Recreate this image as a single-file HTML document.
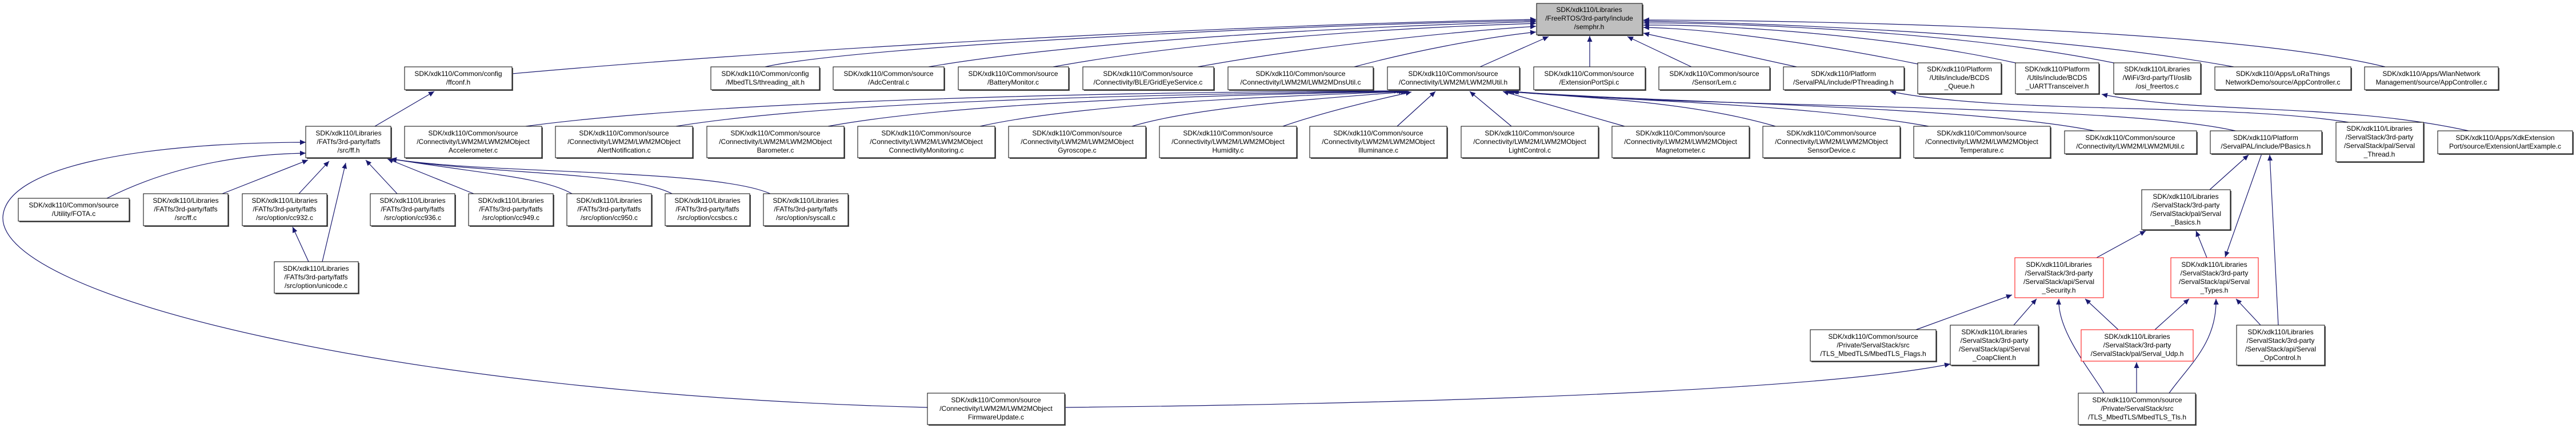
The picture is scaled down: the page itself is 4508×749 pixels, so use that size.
<!DOCTYPE html>
<html><head><meta charset="utf-8"><style>
html,body{margin:0;padding:0;background:#fff;}
svg{display:block;}
text{font-family:"Liberation Sans",Arial,sans-serif;font-size:12px;fill:#000;text-anchor:middle;}
.e{fill:none;stroke:#191970;stroke-width:1.2;}
.b{fill:#fff;stroke:#000;stroke-width:1;}
.r{fill:#fff;stroke:#ff0000;stroke-width:1;}
.s{fill:#555;}
</style></head><body>
<svg width="4508" height="749" viewBox="0 0 4508 749" xmlns="http://www.w3.org/2000/svg">
<defs><marker id="a" markerUnits="userSpaceOnUse" markerWidth="11" markerHeight="9" refX="10" refY="4.5" orient="auto"><path d="M0,0 L10,4.5 L0,9 z" fill="#191970"/></marker></defs>
<g class="e" marker-end="url(#a)">
<!-- to semphr -->
<path d="M896,129 C1500,75 2300,40 2688,34"/>
<path d="M1339,117 C1500,80 2300,42 2688,36"/>
<path d="M1625,117 C1900,70 2400,45 2688,38"/>
<path d="M1843,117 C2100,70 2450,48 2688,41"/>
<path d="M2096,117 C2300,80 2550,55 2688,46"/>
<path d="M2370,117 C2470,90 2600,65 2688,56"/>
<path d="M2590,117 L2710,64"/>
<path d="M2782,117 L2782,63"/>
<path d="M2960,117 L2848,64"/>
<path d="M3144,117 L2876,58"/>
<path d="M3356,112 C3200,80 3000,50 2876,48"/>
<path d="M3527,110 C3300,60 3000,42 2876,44"/>
<path d="M3699,110 C3400,50 3000,40 2876,40"/>
<path d="M3909,117 C3600,60 3100,40 2876,37"/>
<path d="M4174,117 C3900,50 3200,36 2876,35"/>
<!-- to ffconf -->
<path d="M656,221 L760,160"/>
<!-- to LWM2MUtil.h -->
<path d="M920,221 C1300,170 2100,160 2450,159"/>
<path d="M1183,221 C1500,170 2150,165 2455,159"/>
<path d="M1449,221 C1700,175 2200,165 2458,160"/>
<path d="M1715,221 C1900,180 2250,168 2462,160"/>
<path d="M1981,221 C2100,185 2350,170 2466,160"/>
<path d="M2245,221 C2320,195 2420,172 2470,161"/>
<path d="M2445,221 L2512,160"/>
<path d="M2645,221 L2572,160"/>
<path d="M2843,221 L2630,160"/>
<path d="M3107,221 C2950,175 2750,170 2636,160"/>
<path d="M3375,221 C3150,180 2800,175 2640,160"/>
<path d="M3665,229 C3450,185 2900,180 2645,160"/>
<path d="M3912,229 C3700,180 2950,190 2648,160"/>
<!-- to PThreading / UART -->
<path d="M4110,214 C3900,180 3500,200 3308,160"/>
<path d="M4320,229 C4100,180 3850,200 3678,165"/>
<!-- to ff.h -->
<path d="M187,347 C300,290 420,270 535,268"/>
<path d="M389,339 L539,280"/>
<path d="M523,339 L576,282"/>
<path d="M564,458 L605,285"/>
<path d="M695,339 L640,280"/>
<path d="M829,339 L678,278"/>
<path d="M1001,339 C950,310 850,305 684,278"/>
<path d="M1176,339 C1100,300 850,305 684,278"/>
<path d="M1348,339 C1250,295 850,305 684,278"/>
<path d="M1623,713 C700,690 0,520 5,380 C10,290 250,250 535,249"/>
<!-- to cc932 -->
<path d="M540,458 L512,397"/>
<!-- to CoapClient -->
<path d="M1863,713 C2600,705 3200,680 3413,637"/>
<!-- Serval -->
<path d="M3669,451 L3755,404"/>
<path d="M3862,451 L3843,404"/>
<path d="M3867,332 L3935,271"/>
<path d="M3958,269 L3894,450"/>
<path d="M3987,569 L3972,271"/>
<path d="M3353,577 L3521,516"/>
<path d="M3524,569 L3564,523"/>
<path d="M3682,688 C3660,650 3600,580 3603,523"/>
<path d="M3707,577 L3649,523"/>
<path d="M3771,577 L3831,523"/>
<path d="M3796,688 C3830,640 3880,600 3878,523"/>
<path d="M3956,569 L3913,523"/>
<path d="M3739,688 L3739,634"/>
</g>
<!-- nodes -->
<g id="nodes">
<rect class="s" x="2691" y="8" width="185" height="55"/><rect x="2689" y="6" width="185" height="55" fill="#bfbfbf" stroke="#000"/>
<text x="2781" y="21">SDK/xdk110/Libraries</text><text x="2781" y="36">/FreeRTOS/3rd-party/include</text><text x="2781" y="51">/semphr.h</text>

<rect class="s" x="710" y="119" width="188" height="40"/><rect class="b" x="708" y="117" width="188" height="40"/>
<text x="802" y="133">SDK/xdk110/Common/config</text><text x="802" y="148">/ffconf.h</text>
<rect class="s" x="1246" y="119" width="190" height="40"/><rect class="b" x="1244" y="117" width="190" height="40"/>
<text x="1339" y="133">SDK/xdk110/Common/config</text><text x="1339" y="148">/MbedTLS/threading_alt.h</text>
<rect class="s" x="1460" y="119" width="194" height="40"/><rect class="b" x="1458" y="117" width="194" height="40"/>
<text x="1555" y="133">SDK/xdk110/Common/source</text><text x="1555" y="148">/AdcCentral.c</text>
<rect class="s" x="1679" y="119" width="193" height="40"/><rect class="b" x="1677" y="117" width="193" height="40"/>
<text x="1773" y="133">SDK/xdk110/Common/source</text><text x="1773" y="148">/BatteryMonitor.c</text>
<rect class="s" x="1897" y="119" width="229" height="40"/><rect class="b" x="1895" y="117" width="229" height="40"/>
<text x="2009" y="133">SDK/xdk110/Common/source</text><text x="2009" y="148">/Connectivity/BLE/GridEyeService.c</text>
<rect class="s" x="2151" y="119" width="254" height="40"/><rect class="b" x="2149" y="117" width="254" height="40"/>
<text x="2276" y="133">SDK/xdk110/Common/source</text><text x="2276" y="148">/Connectivity/LWM2M/LWM2MDnsUtil.c</text>
<rect class="s" x="2430" y="119" width="231" height="40"/><rect class="b" x="2428" y="117" width="231" height="40"/>
<text x="2543" y="133">SDK/xdk110/Common/source</text><text x="2543" y="148">/Connectivity/LWM2M/LWM2MUtil.h</text>
<rect class="s" x="2686" y="119" width="195" height="40"/><rect class="b" x="2684" y="117" width="195" height="40"/>
<text x="2781" y="133">SDK/xdk110/Common/source</text><text x="2781" y="148">/ExtensionPortSpi.c</text>
<rect class="s" x="2905" y="119" width="194" height="40"/><rect class="b" x="2903" y="117" width="194" height="40"/>
<text x="3000" y="133">SDK/xdk110/Common/source</text><text x="3000" y="148">/Sensor/Lem.c</text>
<rect class="s" x="3123" y="119" width="211" height="40"/><rect class="b" x="3121" y="117" width="211" height="40"/>
<text x="3226" y="133">SDK/xdk110/Platform</text><text x="3226" y="148">/ServalPAL/include/PThreading.h</text>
<rect class="s" x="3358" y="112" width="146" height="54"/><rect class="b" x="3356" y="110" width="146" height="54"/>
<text x="3429" y="125">SDK/xdk110/Platform</text><text x="3429" y="140">/Utils/include/BCDS</text><text x="3429" y="155">_Queue.h</text>
<rect class="s" x="3529" y="112" width="146" height="54"/><rect class="b" x="3527" y="110" width="146" height="54"/>
<text x="3600" y="125">SDK/xdk110/Platform</text><text x="3600" y="140">/Utils/include/BCDS</text><text x="3600" y="155">_UARTTransceiver.h</text>
<rect class="s" x="3701" y="112" width="152" height="54"/><rect class="b" x="3699" y="110" width="152" height="54"/>
<text x="3775" y="125">SDK/xdk110/Libraries</text><text x="3775" y="140">/WiFi/3rd-party/TI/oslib</text><text x="3775" y="155">/osi_freertos.c</text>
<rect class="s" x="3878" y="119" width="238" height="40"/><rect class="b" x="3876" y="117" width="238" height="40"/>
<text x="3995" y="133">SDK/xdk110/Apps/LoRaThings</text><text x="3995" y="148">NetworkDemo/source/AppController.c</text>
<rect class="s" x="4140" y="119" width="234" height="40"/><rect class="b" x="4138" y="117" width="234" height="40"/>
<text x="4255" y="133">SDK/xdk110/Apps/WlanNetwork</text><text x="4255" y="148">Management/source/AppController.c</text>

<rect class="s" x="537" y="223" width="149" height="55"/><rect class="b" x="535" y="221" width="149" height="55"/>
<text x="610" y="237">SDK/xdk110/Libraries</text><text x="610" y="252">/FATfs/3rd-party/fatfs</text><text x="610" y="267">/src/ff.h</text>

<rect class="s" x="710" y="223" width="240" height="55"/><rect class="b" x="708" y="221" width="240" height="55"/>
<text x="828" y="237">SDK/xdk110/Common/source</text><text x="828" y="252">/Connectivity/LWM2M/LWM2MObject</text><text x="828" y="267">Accelerometer.c</text>
<rect class="s" x="974" y="223" width="240" height="55"/><rect class="b" x="972" y="221" width="240" height="55"/>
<text x="1092" y="237">SDK/xdk110/Common/source</text><text x="1092" y="252">/Connectivity/LWM2M/LWM2MObject</text><text x="1092" y="267">AlertNotification.c</text>
<rect class="s" x="1239" y="223" width="240" height="55"/><rect class="b" x="1237" y="221" width="240" height="55"/>
<text x="1357" y="237">SDK/xdk110/Common/source</text><text x="1357" y="252">/Connectivity/LWM2M/LWM2MObject</text><text x="1357" y="267">Barometer.c</text>
<rect class="s" x="1503" y="223" width="240" height="55"/><rect class="b" x="1501" y="221" width="240" height="55"/>
<text x="1621" y="237">SDK/xdk110/Common/source</text><text x="1621" y="252">/Connectivity/LWM2M/LWM2MObject</text><text x="1621" y="267">ConnectivityMonitoring.c</text>
<rect class="s" x="1767" y="223" width="240" height="55"/><rect class="b" x="1765" y="221" width="240" height="55"/>
<text x="1885" y="237">SDK/xdk110/Common/source</text><text x="1885" y="252">/Connectivity/LWM2M/LWM2MObject</text><text x="1885" y="267">Gyroscope.c</text>
<rect class="s" x="2031" y="223" width="240" height="55"/><rect class="b" x="2029" y="221" width="240" height="55"/>
<text x="2149" y="237">SDK/xdk110/Common/source</text><text x="2149" y="252">/Connectivity/LWM2M/LWM2MObject</text><text x="2149" y="267">Humidity.c</text>
<rect class="s" x="2294" y="223" width="240" height="55"/><rect class="b" x="2292" y="221" width="240" height="55"/>
<text x="2412" y="237">SDK/xdk110/Common/source</text><text x="2412" y="252">/Connectivity/LWM2M/LWM2MObject</text><text x="2412" y="267">Illuminance.c</text>
<rect class="s" x="2559" y="223" width="240" height="55"/><rect class="b" x="2557" y="221" width="240" height="55"/>
<text x="2677" y="237">SDK/xdk110/Common/source</text><text x="2677" y="252">/Connectivity/LWM2M/LWM2MObject</text><text x="2677" y="267">LightControl.c</text>
<rect class="s" x="2823" y="223" width="240" height="55"/><rect class="b" x="2821" y="221" width="240" height="55"/>
<text x="2941" y="237">SDK/xdk110/Common/source</text><text x="2941" y="252">/Connectivity/LWM2M/LWM2MObject</text><text x="2941" y="267">Magnetometer.c</text>
<rect class="s" x="3087" y="223" width="240" height="55"/><rect class="b" x="3085" y="221" width="240" height="55"/>
<text x="3205" y="237">SDK/xdk110/Common/source</text><text x="3205" y="252">/Connectivity/LWM2M/LWM2MObject</text><text x="3205" y="267">SensorDevice.c</text>
<rect class="s" x="3351" y="223" width="239" height="55"/><rect class="b" x="3349" y="221" width="239" height="55"/>
<text x="3468" y="237">SDK/xdk110/Common/source</text><text x="3468" y="252">/Connectivity/LWM2M/LWM2MObject</text><text x="3468" y="267">Temperature.c</text>
<rect class="s" x="3615" y="231" width="231" height="40"/><rect class="b" x="3613" y="229" width="231" height="40"/>
<text x="3728" y="245">SDK/xdk110/Common/source</text><text x="3728" y="260">/Connectivity/LWM2M/LWM2MUtil.c</text>
<rect class="s" x="3870" y="231" width="195" height="40"/><rect class="b" x="3868" y="229" width="195" height="40"/>
<text x="3965" y="245">SDK/xdk110/Platform</text><text x="3965" y="260">/ServalPAL/include/PBasics.h</text>
<rect class="s" x="4090" y="216" width="153" height="69"/><rect class="b" x="4088" y="214" width="153" height="69"/>
<text x="4164" y="229">SDK/xdk110/Libraries</text><text x="4164" y="244">/ServalStack/3rd-party</text><text x="4164" y="259">/ServalStack/pal/Serval</text><text x="4164" y="274">_Thread.h</text>
<rect class="s" x="4268" y="231" width="236" height="40"/><rect class="b" x="4266" y="229" width="236" height="40"/>
<text x="4384" y="245">SDK/xdk110/Apps/XdkExtension</text><text x="4384" y="260">Port/source/ExtensionUartExample.c</text>

<rect class="s" x="34" y="349" width="194" height="40"/><rect class="b" x="32" y="347" width="194" height="40"/>
<text x="129" y="363">SDK/xdk110/Common/source</text><text x="129" y="378">/Utility/FOTA.c</text>
<rect class="s" x="253" y="341" width="148" height="56"/><rect class="b" x="251" y="339" width="148" height="56"/>
<text x="325" y="355">SDK/xdk110/Libraries</text><text x="325" y="370">/FATfs/3rd-party/fatfs</text><text x="325" y="385">/src/ff.c</text>
<rect class="s" x="426" y="341" width="148" height="56"/><rect class="b" x="424" y="339" width="148" height="56"/>
<text x="498" y="355">SDK/xdk110/Libraries</text><text x="498" y="370">/FATfs/3rd-party/fatfs</text><text x="498" y="385">/src/option/cc932.c</text>
<rect class="s" x="650" y="341" width="148" height="56"/><rect class="b" x="648" y="339" width="148" height="56"/>
<text x="722" y="355">SDK/xdk110/Libraries</text><text x="722" y="370">/FATfs/3rd-party/fatfs</text><text x="722" y="385">/src/option/cc936.c</text>
<rect class="s" x="822" y="341" width="148" height="56"/><rect class="b" x="820" y="339" width="148" height="56"/>
<text x="894" y="355">SDK/xdk110/Libraries</text><text x="894" y="370">/FATfs/3rd-party/fatfs</text><text x="894" y="385">/src/option/cc949.c</text>
<rect class="s" x="994" y="341" width="148" height="56"/><rect class="b" x="992" y="339" width="148" height="56"/>
<text x="1066" y="355">SDK/xdk110/Libraries</text><text x="1066" y="370">/FATfs/3rd-party/fatfs</text><text x="1066" y="385">/src/option/cc950.c</text>
<rect class="s" x="1166" y="341" width="148" height="56"/><rect class="b" x="1164" y="339" width="148" height="56"/>
<text x="1238" y="355">SDK/xdk110/Libraries</text><text x="1238" y="370">/FATfs/3rd-party/fatfs</text><text x="1238" y="385">/src/option/ccsbcs.c</text>
<rect class="s" x="1338" y="341" width="148" height="56"/><rect class="b" x="1336" y="339" width="148" height="56"/>
<text x="1410" y="355">SDK/xdk110/Libraries</text><text x="1410" y="370">/FATfs/3rd-party/fatfs</text><text x="1410" y="385">/src/option/syscall.c</text>
<rect class="s" x="3750" y="334" width="155" height="70"/><rect class="b" x="3748" y="332" width="155" height="70"/>
<text x="3825" y="348">SDK/xdk110/Libraries</text><text x="3825" y="363">/ServalStack/3rd-party</text><text x="3825" y="378">/ServalStack/pal/Serval</text><text x="3825" y="393">_Basics.h</text>

<rect class="s" x="482" y="460" width="147" height="55"/><rect class="b" x="480" y="458" width="147" height="55"/>
<text x="553" y="474">SDK/xdk110/Libraries</text><text x="553" y="489">/FATfs/3rd-party/fatfs</text><text x="553" y="504">/src/option/unicode.c</text>
<rect class="r" x="3526" y="451" width="155" height="70"/>
<text x="3603" y="467">SDK/xdk110/Libraries</text><text x="3603" y="482">/ServalStack/3rd-party</text><text x="3603" y="497">/ServalStack/api/Serval</text><text x="3603" y="512">_Security.h</text>
<rect class="r" x="3799" y="451" width="153" height="70"/>
<text x="3875" y="467">SDK/xdk110/Libraries</text><text x="3875" y="482">/ServalStack/3rd-party</text><text x="3875" y="497">/ServalStack/api/Serval</text><text x="3875" y="512">_Types.h</text>

<rect class="s" x="3170" y="579" width="220" height="55"/><rect class="b" x="3168" y="577" width="220" height="55"/>
<text x="3278" y="593">SDK/xdk110/Common/source</text><text x="3278" y="608">/Private/ServalStack/src</text><text x="3278" y="623">/TLS_MbedTLS/MbedTLS_Flags.h</text>
<rect class="s" x="3415" y="571" width="154" height="70"/><rect class="b" x="3413" y="569" width="154" height="70"/>
<text x="3490" y="585">SDK/xdk110/Libraries</text><text x="3490" y="600">/ServalStack/3rd-party</text><text x="3490" y="615">/ServalStack/api/Serval</text><text x="3490" y="630">_CoapClient.h</text>
<rect class="r" x="3642" y="577" width="196" height="55"/>
<text x="3740" y="593">SDK/xdk110/Libraries</text><text x="3740" y="608">/ServalStack/3rd-party</text><text x="3740" y="623">/ServalStack/pal/Serval_Udp.h</text>
<rect class="s" x="3916" y="571" width="154" height="70"/><rect class="b" x="3914" y="569" width="154" height="70"/>
<text x="3991" y="585">SDK/xdk110/Libraries</text><text x="3991" y="600">/ServalStack/3rd-party</text><text x="3991" y="615">/ServalStack/api/Serval</text><text x="3991" y="630">_OpControl.h</text>

<rect class="s" x="1625" y="690" width="240" height="55"/><rect class="b" x="1623" y="688" width="240" height="55"/>
<text x="1743" y="704">SDK/xdk110/Common/source</text><text x="1743" y="719">/Connectivity/LWM2M/LWM2MObject</text><text x="1743" y="734">FirmwareUpdate.c</text>
<rect class="s" x="3639" y="690" width="205" height="55"/><rect class="b" x="3637" y="688" width="205" height="55"/>
<text x="3740" y="704">SDK/xdk110/Common/source</text><text x="3740" y="719">/Private/ServalStack/src</text><text x="3740" y="734">/TLS_MbedTLS/MbedTLS_Tls.h</text>
</g>
</svg>
</body></html>
